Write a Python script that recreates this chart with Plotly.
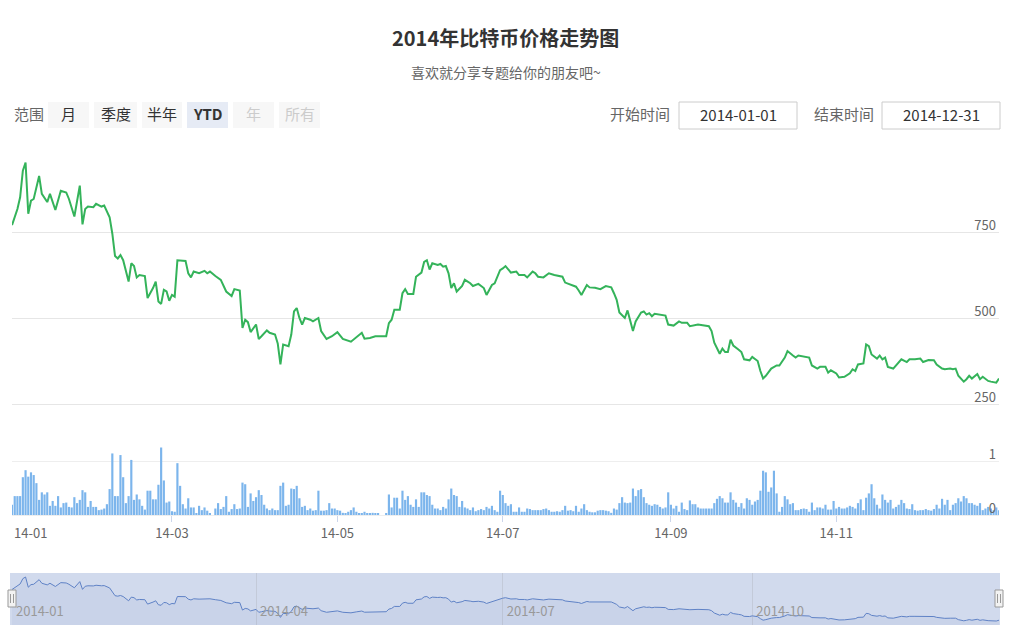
import plotly.graph_objects as go
import pandas as pd

TITLE = "2014年比特币价格走势图"
SUBTITLE = "喜欢就分享专题给你的朋友吧~"
START = "2014-01-01"
END = "2014-12-31"

# price line: day-of-year offset and closing price
price_day = [0, 2, 3, 4, 5, 6, 7, 8, 10, 11,
             13, 14, 16, 18, 20, 21, 23, 25, 26, 27,
             28, 30, 31, 33, 34, 36, 37, 38, 39, 40,
             41, 42, 43, 44, 45, 46, 47, 49, 50, 52,
             53, 54, 55, 56, 57, 58, 59, 60, 61, 64,
             65, 66, 67, 69, 71, 72, 73, 75, 77, 79,
             81, 82, 84, 85, 86, 87, 88, 90, 91, 92,
             94, 95, 97, 98, 99, 100, 102, 103, 104, 105,
             106, 107, 108, 110, 111, 113, 114, 116, 118, 120,
             122, 125, 127, 129, 130, 132, 134, 138, 139, 140,
             141, 143, 144, 145, 146, 148, 149, 151, 152, 153,
             154, 155, 157, 158, 159, 160, 161, 162, 163, 164,
             166, 167, 169, 170, 172, 174, 175, 177, 178, 180,
             181, 182, 184, 186, 187, 189, 190, 192, 193, 194,
             196, 198, 200, 203, 204, 206, 208, 209, 210, 212,
             213, 215, 217, 219, 221, 222, 223, 224, 226, 227,
             228, 229, 230, 232, 233, 234, 235, 236, 237, 239,
             241, 242, 244, 246, 247, 249, 250, 253, 255, 257,
             258, 259, 261, 262, 263, 264, 265, 266, 268, 269,
             270, 272, 273, 275, 276, 277, 278, 280, 282, 283,
             285, 286, 288, 289, 290, 291, 293, 294, 295, 297,
             298, 300, 301, 302, 304, 305, 307, 309, 310, 311,
             312, 314, 315, 316, 317, 319, 320, 321, 322, 323,
             325, 327, 328, 330, 331, 333, 335, 336, 338, 340,
             341, 343, 344, 346, 347, 348, 349, 351, 352, 353,
             354, 356, 357, 358, 360, 361, 363, 364]
price_val = [770, 817, 851, 928, 952, 803, 841, 846, 913, 861,
             837, 861, 814, 870, 865, 846, 795, 885, 772, 817,
             824, 822, 832, 824, 827, 793, 745, 680, 673, 683,
             668, 639, 606, 659, 651, 618, 625, 622, 558, 587,
             606, 548, 541, 582, 577, 550, 567, 562, 668, 666,
             630, 618, 635, 630, 637, 630, 635, 622, 611, 577,
             564, 584, 580, 471, 495, 488, 459, 481, 439, 447,
             464, 457, 452, 426, 365, 423, 418, 452, 519, 529,
             500, 481, 500, 495, 490, 500, 462, 439, 447, 459,
             439, 431, 445, 457, 440, 442, 447, 447, 485, 495,
             524, 524, 572, 584, 570, 570, 620, 632, 663, 668,
             641, 659, 654, 657, 649, 651, 630, 587, 601, 577,
             593, 611, 601, 593, 599, 587, 567, 596, 601, 639,
             644, 651, 632, 635, 625, 625, 618, 635, 630, 620,
             618, 630, 625, 620, 603, 598, 591, 580, 567, 596,
             589, 588, 584, 593, 589, 572, 553, 516, 500, 522,
             495, 462, 490, 516, 519, 510, 514, 505, 512, 510,
             507, 481, 478, 490, 486, 486, 476, 481, 479, 476,
             462, 428, 396, 411, 401, 401, 437, 420, 408, 401,
             380, 377, 387, 375, 346, 324, 332, 353, 362, 362,
             385, 404, 391, 385, 391, 389, 385, 385, 362, 353,
             358, 358, 341, 348, 339, 327, 329, 339, 351, 346,
             365, 368, 423, 418, 394, 382, 391, 380, 385, 358,
             353, 370, 380, 372, 380, 380, 382, 372, 378, 377,
             365, 353, 351, 353, 351, 353, 332, 315, 322, 332,
             324, 337, 322, 329, 317, 315, 312, 324]

# daily volume, from 2014-01-01
volume = [0.19, 0.35, 0.35, 0.35, 0.70, 0.83, 0.71, 0.79, 0.74, 0.59,
          0.28, 0.42, 0.38, 0.42, 0.17, 0.26, 0.17, 0.35, 0.14, 0.22,
          0.23, 0.15, 0.14, 0.33, 0.22, 0.28, 0.46, 0.42, 0.15, 0.26,
          0.15, 0.15, 0.09, 0.10, 0.12, 0.20, 0.48, 1.14, 0.35, 0.35,
          1.11, 0.70, 0.22, 0.35, 1.02, 0.28, 0.38, 0.29, 0.17, 0.10,
          0.45, 0.45, 0.29, 0.29, 0.56, 1.25, 0.64, 0.23, 0.25, 0.07,
          0.06, 0.96, 0.54, 0.20, 0.12, 0.31, 0.14, 0.14, 0.02, 0.17,
          0.09, 0.14, 0.08, 0.02, 0.00, 0.12, 0.22, 0.11, 0.15, 0.35,
          0.06, 0.11, 0.20, 0.11, 0.12, 0.60, 0.57, 0.15, 0.40, 0.26,
          0.33, 0.46, 0.37, 0.19, 0.12, 0.09, 0.12, 0.09, 0.09, 0.54,
          0.60, 0.17, 0.19, 0.49, 0.48, 0.54, 0.31, 0.15, 0.17, 0.09,
          0.12, 0.08, 0.09, 0.45, 0.08, 0.08, 0.09, 0.22, 0.12, 0.12,
          0.09, 0.08, 0.04, 0.03, 0.06, 0.09, 0.14, 0.06, 0.03, 0.02,
          0.06, 0.03, 0.03, 0.04, 0.03, 0.03, 0.00, 0.00, 0.02, 0.38,
          0.14, 0.32, 0.32, 0.12, 0.45, 0.28, 0.35, 0.19, 0.15, 0.29,
          0.15, 0.42, 0.42, 0.37, 0.35, 0.19, 0.12, 0.12, 0.09, 0.15,
          0.12, 0.29, 0.49, 0.37, 0.35, 0.15, 0.26, 0.14, 0.12, 0.09,
          0.14, 0.07, 0.09, 0.11, 0.09, 0.15, 0.12, 0.17, 0.09, 0.06,
          0.45, 0.37, 0.22, 0.17, 0.20, 0.06, 0.06, 0.14, 0.06, 0.06,
          0.12, 0.11, 0.09, 0.09, 0.09, 0.09, 0.11, 0.12, 0.09, 0.06,
          0.06, 0.07, 0.06, 0.09, 0.17, 0.08, 0.09, 0.07, 0.17, 0.06,
          0.12, 0.20, 0.09, 0.06, 0.05, 0.05, 0.08, 0.09, 0.09, 0.08,
          0.07, 0.04, 0.12, 0.10, 0.22, 0.33, 0.23, 0.22, 0.23, 0.49,
          0.35, 0.46, 0.48, 0.33, 0.22, 0.19, 0.17, 0.20, 0.19, 0.15,
          0.12, 0.14, 0.42, 0.19, 0.12, 0.17, 0.06, 0.23, 0.11, 0.09,
          0.27, 0.20, 0.20, 0.14, 0.12, 0.12, 0.12, 0.12, 0.12, 0.22,
          0.30, 0.35, 0.31, 0.23, 0.23, 0.42, 0.28, 0.23, 0.15, 0.22,
          0.12, 0.31, 0.28, 0.19, 0.25, 0.28, 0.45, 0.82, 0.79, 0.43,
          0.51, 0.82, 0.40, 0.06, 0.15, 0.35, 0.29, 0.20, 0.22, 0.09,
          0.09, 0.11, 0.12, 0.11, 0.06, 0.23, 0.09, 0.14, 0.14, 0.12,
          0.19, 0.10, 0.10, 0.26, 0.12, 0.15, 0.12, 0.12, 0.14, 0.17,
          0.15, 0.12, 0.22, 0.29, 0.09, 0.32, 0.40, 0.57, 0.31, 0.19,
          0.12, 0.38, 0.28, 0.23, 0.28, 0.12, 0.15, 0.19, 0.28, 0.22,
          0.12, 0.11, 0.20, 0.09, 0.08, 0.09, 0.09, 0.11, 0.09, 0.08,
          0.11, 0.19, 0.12, 0.30, 0.19, 0.28, 0.09, 0.19, 0.22, 0.31,
          0.25, 0.35, 0.31, 0.22, 0.22, 0.19, 0.17, 0.22, 0.09, 0.12,
          0.15, 0.12, 0.09, 0.14, 0.09]

price_ticks = [250, 500, 750, 1000]
price_tick_text = ["250", "500", "750", ""]
volume_ticks = [0, 1]
volume_tick_text = ["0", "1"]
month_ticks = ["2014-03-01", "2014-05-01", "2014-07-01", "2014-09-01", "2014-11-01"]
month_labels = ["14-03", "14-05", "14-07", "14-09", "14-11"]
first_month_label = "14-01"
nav_ticks = ["2014-01-01", "2014-04-01", "2014-07-01", "2014-10-01"]
nav_labels = ["2014-01", "2014-04", "2014-07", "2014-10"]
range_label = "范围"
range_buttons = ["月", "季度", "半年", "YTD", "年", "所有"]
range_selected = "YTD"
range_disabled = ["年", "所有"]
input_labels = ["开始时间", "结束时间"]
input_values = ["2014-01-01", "2014-12-31"]

start = pd.Timestamp(START)
price_dates = [start + pd.Timedelta(days=d) for d in price_day]
vol_dates = pd.date_range(START, periods=len(volume), freq="D")

# ---------- layout geometry (pixels) ----------
W, H = 1025, 631
L, R = 12, 26
PW = W - L - R


def px_x(px):
    return (px - L) / PW


def px_y(py):
    return 1 - py / H


FONT = "Noto Sans CJK SC, Open Sans, sans-serif"

fig = go.Figure()

fig.add_trace(go.Scatter(
    x=price_dates, y=price_val, mode="lines",
    line=dict(color="#34b35a", width=2), xaxis="x", yaxis="y",
    hoverinfo="x+y", showlegend=False))

fig.add_trace(go.Bar(
    x=vol_dates, y=volume, marker=dict(color="#7cb5ec", line=dict(width=0)),
    xaxis="x", yaxis="y2", showlegend=False))

fig.add_trace(go.Scatter(
    x=price_dates, y=price_val, mode="lines",
    line=dict(color="#5f82c6", width=1), fill="tozeroy",
    fillcolor="rgba(51,92,173,0.05)",
    xaxis="x2", yaxis="y3", hoverinfo="skip", showlegend=False))

shapes = []
annotations = []

# title & subtitle
annotations.append(dict(text="<b>" + TITLE + "</b>", x=0.5, y=px_y(38), xref="paper", yref="paper",
                        xanchor="center", yanchor="middle", showarrow=False,
                        font=dict(size=20, color="#333333", family=FONT)))
annotations.append(dict(text=SUBTITLE, x=0.5, y=px_y(72), xref="paper", yref="paper",
                        xanchor="center", yanchor="middle", showarrow=False,
                        font=dict(size=14, color="#666666", family=FONT)))

# range selector
annotations.append(dict(text=range_label, x=px_x(12), y=px_y(114), xref="paper", yref="paper",
                        xanchor="left", yanchor="middle", showarrow=False,
                        font=dict(size=15, color="#666666", family=FONT)))
btn_x = [(48, 89), (94, 137), (142, 182), (187, 228), (233, 274), (279, 320)]
for (x0, x1), lab in zip(btn_x, range_buttons):
    sel = lab == range_selected
    dis = lab in range_disabled
    shapes.append(dict(type="rect", xref="paper", yref="paper",
                       x0=px_x(x0), x1=px_x(x1), y0=px_y(128), y1=px_y(102),
                       fillcolor="#e6ebf5" if sel else "#f7f7f7", line=dict(width=0), layer="above"))
    txt = "<b>" + lab + "</b>" if sel else lab
    annotations.append(dict(text=txt, x=px_x((x0 + x1) / 2), y=px_y(114), xref="paper", yref="paper",
                            xanchor="center", yanchor="middle", showarrow=False,
                            font=dict(size=15, color="#cccccc" if dis else "#333333", family=FONT)))

# date inputs
inp = [((608, 668), (679, 797)), ((812, 872), (882, 1000))]
for ((lx0, lx1), (bx0, bx1)), lab, val in zip(inp, input_labels, input_values):
    annotations.append(dict(text=lab, x=px_x(lx0), y=px_y(114), xref="paper", yref="paper",
                            xanchor="left", yanchor="middle", showarrow=False,
                            font=dict(size=15, color="#666666", family=FONT)))
    shapes.append(dict(type="rect", xref="paper", yref="paper",
                       x0=px_x(bx0), x1=px_x(bx1), y0=px_y(129), y1=px_y(102),
                       fillcolor="white", line=dict(color="#cccccc", width=1), layer="above"))
    annotations.append(dict(text=val, x=px_x((bx0 + bx1) / 2), y=px_y(114.5), xref="paper", yref="paper",
                            xanchor="center", yanchor="middle", showarrow=False,
                            font=dict(size=15, color="#333333", family=FONT)))

# first month label (left-aligned like the reference)
annotations.append(dict(text=first_month_label, x=START, y=px_y(532), xref="x", yref="paper",
                        xanchor="left", yanchor="middle", showarrow=False,
                        font=dict(size=13, color="#666666", family=FONT)))

# navigator mask & handles
shapes.append(dict(type="rect", xref="paper", yref="paper",
                   x0=px_x(10), x1=px_x(1000), y0=px_y(625), y1=px_y(573),
                   fillcolor="rgba(102,133,194,0.3)", line=dict(width=0), layer="below"))
for hx in (12, 999):
    shapes.append(dict(type="rect", xref="paper", yref="paper",
                       x0=px_x(hx - 4), x1=px_x(hx + 4), y0=px_y(607), y1=px_y(590),
                       fillcolor="#f2f2f2", line=dict(color="#999999", width=1), layer="above"))
    for dx in (-1.5, 1.5):
        shapes.append(dict(type="line", xref="paper", yref="paper",
                           x0=px_x(hx + dx), x1=px_x(hx + dx), y0=px_y(603), y1=px_y(594),
                           line=dict(color="#999999", width=1), layer="above"))

# price pane: 1000 at y=146px, 250 at y=404px; domain extends below for the label
P_PER = (404 - 146) / 750.0
price_range = [250 - (413 - 404) / P_PER, 1000 + (146 - 145) / P_PER]
# volume pane: 1 at y=461px, 0 at y=515px
V_PER = (515 - 461) / 1.0
vol_range = [0 - (524 - 515) / V_PER, 1 + (515 - 461 + (461 - 440)) / V_PER - 0]
vol_range[1] = 1 + (461 - 440) / V_PER

fig.update_layout(
    template="none",
    width=W, height=H,
    margin=dict(l=L, r=R, t=0, b=0),
    paper_bgcolor="white", plot_bgcolor="rgba(0,0,0,0)",
    font=dict(family=FONT, color="#666666"),
    showlegend=False,
    bargap=0.2,
    shapes=shapes, annotations=annotations,
    xaxis=dict(domain=[0, 1], anchor="free", position=px_y(515), type="date", range=[START, END],
               showgrid=False, zeroline=False, showline=False,
               tickvals=month_ticks, ticktext=month_labels,
               ticks="outside", ticklen=6, tickcolor="#ccd6eb", tickwidth=1,
               tickfont=dict(size=13, color="#666666", family=FONT),
               automargin=False, fixedrange=True),
    yaxis=dict(domain=[px_y(413), px_y(145)], anchor="x", side="right", range=price_range,
               tickvals=price_ticks, ticktext=price_tick_text,
               showgrid=True, gridcolor="#e6e6e6", gridwidth=1, zeroline=False, showline=False,
               ticklabelposition="inside", ticklabelshift=-7, ticks="",
               tickfont=dict(size=13, color="#666666", family=FONT), automargin=False),
    yaxis2=dict(domain=[px_y(524), px_y(440)], anchor="x", side="right", range=vol_range,
                tickvals=volume_ticks, ticktext=volume_tick_text,
                showgrid=True, gridcolor="#eeeeee", gridwidth=1, zeroline=False, showline=False,
                ticklabelposition="inside", ticklabelshift=-7, ticks="",
                tickfont=dict(size=13, color="#666666", family=FONT), automargin=False),
    xaxis2=dict(domain=[0, 1], anchor="y3", type="date", range=[START, END],
                showgrid=True, gridcolor="#c3cad9", gridwidth=1, zeroline=False, showline=False,
                tickvals=nav_ticks, ticktext=nav_labels, ticks="",
                ticklabelposition="inside right", ticklabelshift=4,
                tickfont=dict(size=13, color="#999999", family=FONT), automargin=False),
    yaxis3=dict(domain=[px_y(625), px_y(573)], anchor="x2", range=[254, 1010],
                showgrid=False, zeroline=False, showline=False, showticklabels=False,
                automargin=False),
)

fig.write_html("out.html", config={"displayModeBar": False},
               post_script="document.body.style.margin='0';document.body.style.overflow='hidden';")
